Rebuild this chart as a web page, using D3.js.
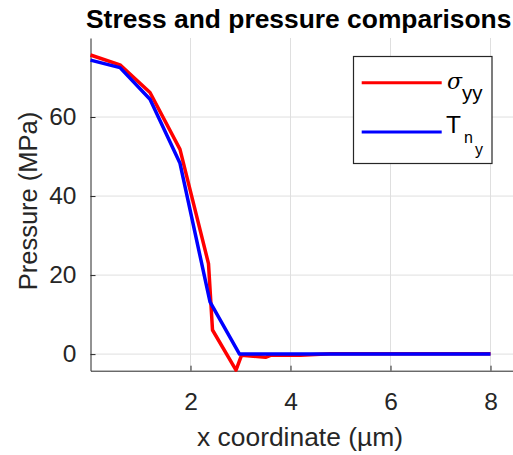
<!DOCTYPE html>
<html><head><meta charset="utf-8">
<script src="https://cdn.jsdelivr.net/npm/d3@7"></script>
<style>
html,body{margin:0;padding:0;background:#fff;overflow:hidden;}
svg{display:block;}
text{font-family:"Liberation Sans",Arial,Helvetica,sans-serif;fill:#262626;}
</style></head>
<body>
<svg id="chart" width="513" height="455"></svg>
<script>
const titleText = "Stress and pressure comparisons";
const xLabelText = "x coordinate (µm)";
const yLabelText = "Pressure (MPa)";
const xTicks = [2, 4, 6, 8];
const yTicks = [0, 20, 40, 60];
const sigmaX = [0, 0.59, 1.19, 1.79, 2.36, 2.44, 2.91, 3.02, 3.5, 3.6, 4.2, 4.8, 8];
const sigmaY = [75.7, 73.2, 66.2, 51.8, 22.9, 6.1, -4.05, -0.3, -0.8, -0.3, -0.3, 0.1, 0.1];
const tnX = [0, 0.59, 1.19, 1.79, 2.39, 2.98, 8];
const tnY = [74.4, 72.5, 64.5, 48.3, 13.2, 0, 0];

const svg = d3.select("#chart");
const L = 90.5, T = 38, B = 370.7;
const x = d3.scaleLinear().domain([0, 9]).range([L, L + 450]);
const y = d3.scaleLinear().domain([-4.2, 80]).range([B, T]);
const FS = 24.5, LFS = 26.4;

// grid
const grid = svg.append("g").attr("stroke", "#dfdfdf").attr("stroke-width", 1);
grid.selectAll("line.gx").data(xTicks).join("line")
  .attr("x1", d => x(d)).attr("x2", d => x(d)).attr("y1", T).attr("y2", B);
grid.selectAll("line.gy").data(yTicks).join("line")
  .attr("x1", L).attr("x2", 513).attr("y1", d => y(d)).attr("y2", d => y(d));

// axes
const xAxis = d3.axisBottom(x).tickValues(xTicks).tickSizeInner(-5).tickSizeOuter(0).tickPadding(22);
const gx = svg.append("g").attr("transform", `translate(0,${B})`).call(xAxis);
const yAxis = d3.axisLeft(y).tickValues(yTicks).tickSizeInner(-5).tickSizeOuter(0).tickPadding(14);
const gy = svg.append("g").attr("transform", `translate(${L},0)`).call(yAxis);
[gx, gy].forEach(g => {
  g.select(".domain").attr("stroke", "#262626").attr("stroke-width", 1);
  g.selectAll(".tick line").attr("stroke", "#262626").attr("stroke-width", 1);
  g.selectAll(".tick text").attr("font-size", FS).attr("fill", "#262626")
    .attr("font-family", '"Liberation Sans",Arial,sans-serif');
});

// lines
const line = d3.line().x(d => x(d[0])).y(d => y(d[1]));
svg.append("path").datum(sigmaX.map((v, i) => [v, sigmaY[i]]))
  .attr("d", line).attr("fill", "none").attr("stroke", "#ff0000").attr("stroke-width", 3.5).attr("stroke-linejoin", "round");
svg.append("path").datum(tnX.map((v, i) => [v, tnY[i]]))
  .attr("d", line).attr("fill", "none").attr("stroke", "#0000ff").attr("stroke-width", 3.5).attr("stroke-linejoin", "round");

// labels
svg.append("text").attr("x", 86).attr("y", 28).attr("font-size", LFS).attr("font-weight", "bold")
  .style("fill", "#000").text(titleText);
svg.append("text").attr("x", 300).attr("y", 446).attr("text-anchor", "middle").attr("font-size", LFS).text(xLabelText);
svg.append("text").attr("transform", "translate(37,201) rotate(-90)").attr("text-anchor", "middle").attr("font-size", 25.5).text(yLabelText);

// legend
const lg = svg.append("g");
lg.append("rect").attr("x", 353.5).attr("y", 56.5).attr("width", 138.5).attr("height", 107)
  .attr("fill", "#fff").attr("stroke", "#262626").attr("stroke-width", 1.2);
lg.append("line").attr("x1", 361.7).attr("x2", 441.7).attr("y1", 82.7).attr("y2", 82.7).attr("stroke", "#ff0000").attr("stroke-width", 3);
lg.append("line").attr("x1", 361.7).attr("x2", 441.7).attr("y1", 132).attr("y2", 132).attr("stroke", "#0000ff").attr("stroke-width", 3);
const t1 = lg.append("text").attr("x", 447).attr("y", 89).attr("font-size", FS).style("fill", "#000");
t1.append("tspan").attr("font-family", '"DejaVu Serif",serif').attr("font-style", "italic").attr("font-size", 22).text("σ");
t1.append("tspan").attr("dy", 11).attr("font-size", 20.5).text("yy");
const t2 = lg.append("text").attr("x", 446).attr("y", 133).attr("font-size", FS).style("fill", "#000");
t2.append("tspan").text("T");
t2.append("tspan").attr("dx", 3).attr("dy", 10).attr("font-size", 16).text("n");
t2.append("tspan").attr("dx", 2).attr("dy", 12).attr("font-size", 16).text("y");
</script>
</body></html>
